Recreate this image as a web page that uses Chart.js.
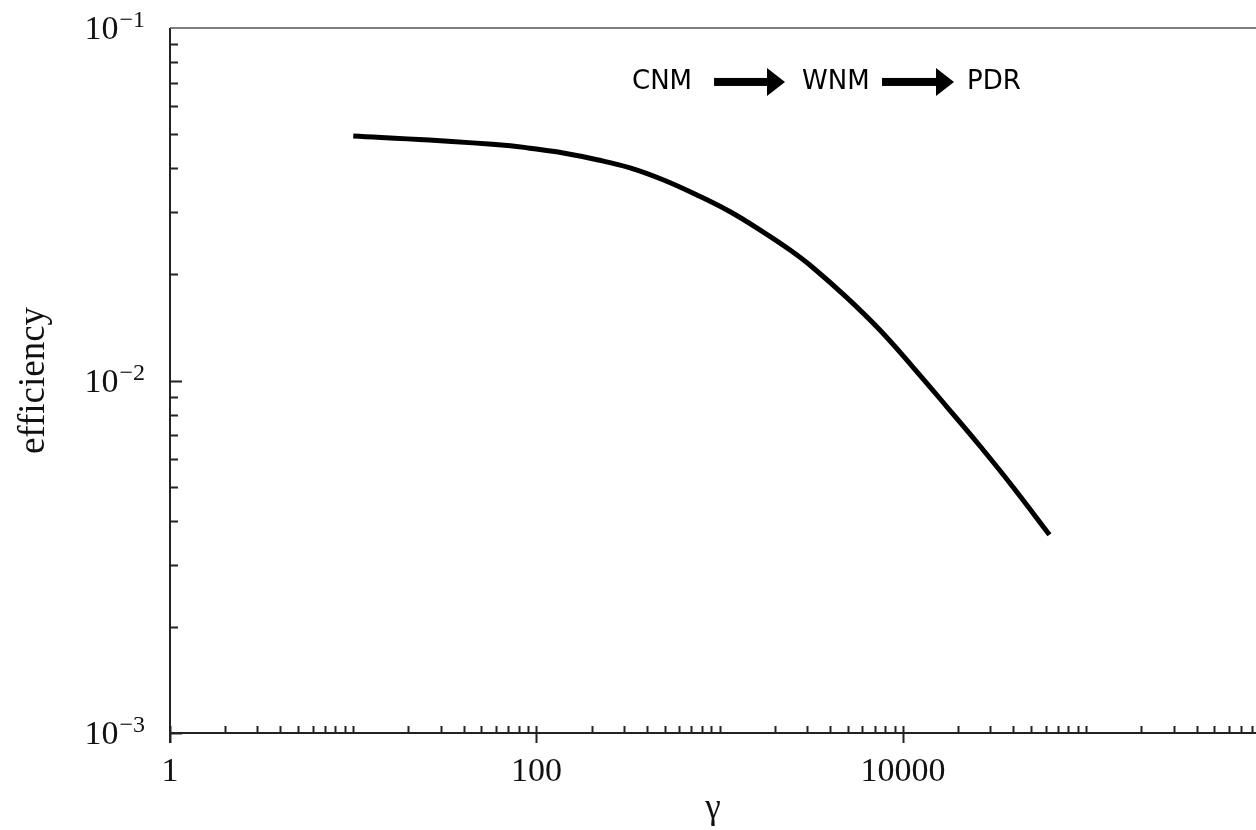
<!DOCTYPE html>
<html lang="en">
<head>
<meta charset="UTF-8">
<title>efficiency vs gamma</title>
<script src="https://cdn.jsdelivr.net/npm/chart.js"></script>
<style>
  html, body { margin: 0; padding: 0; background: #fff; }
  #wrap { width: 1256px; height: 830px; }
</style>
</head>
<body>
<div id="wrap"><canvas id="effChart" width="1256" height="830"></canvas></div>
<script>
// curve (gamma, efficiency)
const gammaValues = [10, 26, 72, 92, 140, 214, 324, 490, 750, 1140, 1720, 2420, 3230, 4940, 7480, 11350, 17400, 26300, 39800, 63000];
const efficiencyValues = [0.0494, 0.0481, 0.04634, 0.0456, 0.0442, 0.0423, 0.0401, 0.0371, 0.0336, 0.0301, 0.0264, 0.02344, 0.02089, 0.01718, 0.0139, 0.0109, 0.00841, 0.00652, 0.00499, 0.00365];

const xTickValues = [1, 100, 10000];
const yTickValues = [0.001, 0.01, 0.1];
const yTickExponents = ['−3', '−2', '−1'];

// CNM -> WNM -> PDR annotation, placed in data units
const phaseLabels = ['CNM', 'WNM', 'PDR'];
const phaseGamma = [332, 2810, 22350];
const arrowGamma = [[931, 2270], [7680, 18980]];
const annotEfficiency = 0.0703;

const serif = "'Liberation Serif'";

// axes, inward ticks, y tick labels with exponents, annotation
const framePlugin = {
    id: 'framePlugin',
    afterDraw(chart) {
        const ctx = chart.ctx;
        const a = chart.chartArea;
        const xs = chart.scales.x;
        const ys = chart.scales.y;
        ctx.save();
        ctx.strokeStyle = '#222';
        ctx.lineWidth = 2;

        ctx.beginPath();
        ctx.moveTo(a.left, a.top);
        ctx.lineTo(a.left, a.bottom + 10);
        ctx.moveTo(a.left, a.bottom);
        ctx.lineTo(a.right, a.bottom);
        ctx.stroke();

        ctx.lineWidth = 1.5;
        ctx.strokeStyle = '#555';
        ctx.beginPath();
        ctx.moveTo(a.left, a.top);
        ctx.lineTo(a.right, a.top);
        ctx.stroke();

        ctx.strokeStyle = '#222';
        ctx.lineWidth = 2;
        ctx.beginPath();
        for (let k = 0; k <= 6; k++) {
            for (let m = 1; m <= 9; m++) {
                const v = m * Math.pow(10, k);
                if (v < xs.min || v > xs.max) continue;
                const px = Math.round(xs.getPixelForValue(v)) + 0.5;
                ctx.moveTo(px, a.bottom);
                ctx.lineTo(px, a.bottom - 7);
                if (xTickValues.includes(v)) {
                    ctx.moveTo(px, a.bottom);
                    ctx.lineTo(px, a.bottom + 10);
                }
            }
        }
        for (let k = -3; k <= -2; k++) {
            for (let m = 1; m <= 9; m++) {
                const v = m * Math.pow(10, k);
                const py = Math.round(ys.getPixelForValue(v)) + 0.5;
                ctx.moveTo(a.left, py);
                ctx.lineTo(a.left + (m === 1 ? 12 : 8), py);
            }
        }
        ctx.stroke();

        // y tick labels: 10 with raised exponent
        ctx.fillStyle = '#111';
        ctx.textBaseline = 'alphabetic';
        yTickValues.forEach((v, i) => {
            const py = ys.getPixelForValue(v);
            const right = a.left - 25;
            ctx.font = '24px ' + serif;
            const w = ctx.measureText(yTickExponents[i]).width;
            ctx.textAlign = 'left';
            ctx.fillText(yTickExponents[i], right - w, py - 1);
            ctx.font = '34px ' + serif;
            ctx.textAlign = 'right';
            ctx.fillText('10', right - w - 1, py + 11);
        });

        // annotation
        const ay = ys.getPixelForValue(annotEfficiency);
        ctx.fillStyle = '#000';
        ctx.font = "26px 'DejaVu Sans', sans-serif";
        ctx.textBaseline = 'middle';
        ctx.textAlign = 'left';
        phaseLabels.forEach((t, i) => {
            ctx.fillText(t, xs.getPixelForValue(phaseGamma[i]), ay);
        });
        arrowGamma.forEach(([g0, g1]) => {
            const x0 = xs.getPixelForValue(g0);
            const x1 = xs.getPixelForValue(g1);
            const head = 18;
            ctx.fillRect(x0, ay - 4, x1 - head - x0 + 1, 8);
            ctx.beginPath();
            ctx.moveTo(x1 - head, ay - 14);
            ctx.lineTo(x1, ay);
            ctx.lineTo(x1 - head, ay + 14);
            ctx.closePath();
            ctx.fill();
        });
        ctx.restore();
    }
};

const ctx = document.getElementById('effChart').getContext('2d');
const effChart = new Chart(ctx, {
    type: 'line',
    data: {
        datasets: [{
            label: 'efficiency',
            data: gammaValues.map((g, i) => ({ x: g, y: efficiencyValues[i] })),
            borderColor: '#000',
            borderWidth: 5,
            borderCapStyle: 'butt',
            pointRadius: 0,
            fill: false,
            tension: 0.4
        }]
    },
    options: {
        responsive: false,
        animation: false,
        layout: { padding: { top: 28, right: 0, bottom: 0, left: 0 } },
        plugins: { legend: { display: false }, tooltip: { enabled: false } },
        scales: {
            x: {
                type: 'logarithmic',
                min: 1,
                max: 844000,
                grid: { display: false, drawTicks: false },
                border: { display: false },
                afterBuildTicks: s => { s.ticks = xTickValues.map(v => ({ value: v })); },
                afterFit: s => { s.height = 97; s.paddingLeft = 0; s.paddingRight = 0; },
                ticks: {
                    autoSkip: false,
                    maxRotation: 0,
                    padding: 19,
                    color: '#111',
                    font: { family: serif, size: 34 },
                    callback: v => String(v)
                },
                title: {
                    display: true,
                    text: 'γ',
                    color: '#111',
                    font: { family: serif, size: 35 },
                    padding: { top: 0, bottom: 0 }
                }
            },
            y: {
                type: 'logarithmic',
                min: 0.001,
                max: 0.1,
                grid: { display: false, drawTicks: false },
                border: { display: false },
                afterBuildTicks: s => { s.ticks = yTickValues.map(v => ({ value: v })); },
                afterFit: s => { s.width = 170; s.paddingTop = 0; s.paddingBottom = 0; },
                ticks: { display: false },
                title: {
                    display: true,
                    text: 'efficiency',
                    color: '#111',
                    font: { family: serif, size: 37 },
                    padding: { top: 12, bottom: 0 }
                }
            }
        }
    },
    plugins: [framePlugin]
});
</script>
</body>
</html>
